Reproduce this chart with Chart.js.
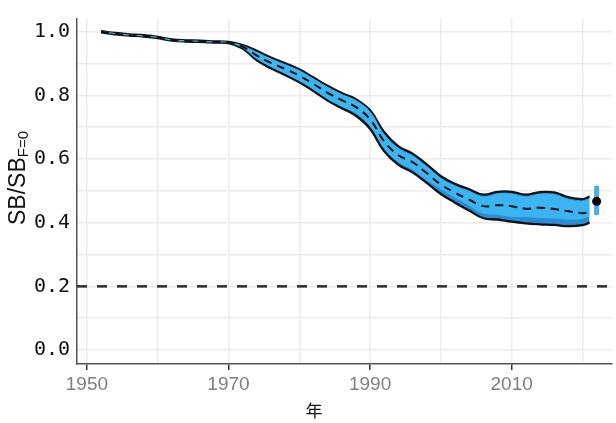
<!DOCTYPE html>
<html>
<head>
<meta charset="utf-8">
<script src="https://cdn.jsdelivr.net/npm/chart.js@4"></script>
<style>
  body { margin: 0; background: #fff; }
  canvas { display: block; }
</style>
</head>
<body>
<canvas id="sbChart" width="616" height="423"></canvas>
<script>
// years of the estimate
const years = [1952, 1954, 1956, 1958, 1960, 1962, 1964, 1966, 1968, 1970,
  1972, 1974, 1976, 1978, 1980, 1982, 1984, 1986, 1988, 1990,
  1992, 1994, 1996, 1998, 2000, 2002, 2004, 2006, 2008, 2010,
  2012, 2014, 2016, 2018, 2020, 2021];

// median SB/SB(F=0)
const median = [1.000, 0.994, 0.990, 0.987, 0.982, 0.974, 0.971, 0.970, 0.968, 0.966,
  0.953, 0.925, 0.902, 0.883, 0.862, 0.836, 0.808, 0.785, 0.763, 0.725,
  0.655, 0.612, 0.590, 0.556, 0.520, 0.494, 0.472, 0.452, 0.455, 0.452,
  0.444, 0.447, 0.443, 0.436, 0.430, 0.433];

// outer interval (dark blue)
const outerHi = [1.002, 0.996, 0.992, 0.989, 0.984, 0.976, 0.973, 0.972, 0.970, 0.968,
  0.958, 0.940, 0.919, 0.901, 0.882, 0.856, 0.830, 0.807, 0.788, 0.753,
  0.684, 0.640, 0.617, 0.583, 0.546, 0.522, 0.505, 0.488, 0.497, 0.497,
  0.488, 0.496, 0.495, 0.480, 0.474, 0.482];
const outerLo = [0.998, 0.992, 0.988, 0.985, 0.980, 0.972, 0.969, 0.968, 0.966, 0.964,
  0.947, 0.910, 0.885, 0.864, 0.841, 0.814, 0.784, 0.760, 0.736, 0.695,
  0.624, 0.582, 0.558, 0.525, 0.490, 0.463, 0.438, 0.414, 0.410, 0.403,
  0.398, 0.395, 0.393, 0.389, 0.392, 0.400];

// inner interval (light blue)
const innerHi = [1.002, 0.996, 0.992, 0.989, 0.984, 0.976, 0.973, 0.972, 0.970, 0.968,
  0.957, 0.937, 0.916, 0.898, 0.879, 0.853, 0.827, 0.804, 0.785, 0.750,
  0.678, 0.634, 0.611, 0.577, 0.540, 0.516, 0.499, 0.482, 0.491, 0.491,
  0.482, 0.490, 0.489, 0.474, 0.468, 0.476];
const innerLo = [0.998, 0.992, 0.988, 0.985, 0.980, 0.972, 0.969, 0.968, 0.966, 0.964,
  0.949, 0.914, 0.889, 0.868, 0.845, 0.818, 0.788, 0.764, 0.744, 0.703,
  0.632, 0.590, 0.566, 0.533, 0.505, 0.478, 0.453, 0.429, 0.425, 0.418,
  0.418, 0.415, 0.413, 0.409, 0.412, 0.420];

// latest-year point with its interval
const lastYear = [2022];
const lastValue = [0.467];
const lastRange = [0.424, 0.516];

// reference level
const refLevel = [0.2];

const xMin = 1948.6, xMax = 2024.1;
const yMin = -0.044, yMax = 1.04;

const pts = arr => years.map((yr, i) => ({ x: yr, y: arr[i] }));

const axisTitles = {
  id: 'axisTitles',
  afterDraw(chart) {
    const ctx = chart.ctx;
    ctx.save();
    ctx.fillStyle = '#111';
    // y axis title with subscript
    ctx.translate(25, 178);
    ctx.rotate(-Math.PI / 2);
    ctx.font = '23px "Liberation Sans", Arial, sans-serif';
    const main = 'SB/SB';
    const w1 = ctx.measureText(main).width;
    ctx.font = '15px "Liberation Sans", Arial, sans-serif';
    const w2 = ctx.measureText('F=0').width;
    const start = -(w1 + w2) / 2;
    ctx.textBaseline = 'alphabetic';
    ctx.textAlign = 'left';
    ctx.font = '23px "Liberation Sans", Arial, sans-serif';
    ctx.fillText(main, start, 0);
    ctx.font = '15px "Liberation Sans", Arial, sans-serif';
    ctx.fillText('F=0', start + w1, 3);
    ctx.restore();

    // x axis title
    ctx.save();
    ctx.fillStyle = '#111';
    ctx.font = '17px "Noto Sans CJK JP", sans-serif';
    ctx.textAlign = 'center';
    ctx.textBaseline = 'middle';
    ctx.fillText('年', 314, 411);
    ctx.restore();
  }
};

const ctx = document.getElementById('sbChart').getContext('2d');
new Chart(ctx, {
  type: 'line',
  data: {
    datasets: [
      {
        data: [{ x: xMin, y: refLevel[0] }, { x: xMax, y: refLevel[0] }],
        borderColor: '#333',
        borderWidth: 2.6,
        borderDash: [10, 10],
        pointRadius: 0,
        fill: false,
        order: 20
      },
      {
        data: pts(outerHi),
        borderColor: '#111',
        borderWidth: 2.3,
        backgroundColor: '#2b8bd5',
        pointRadius: 0,
        tension: 0.4,
        fill: '+1',
        order: 15
      },
      {
        data: pts(outerLo),
        borderColor: '#111',
        borderWidth: 2.3,
        pointRadius: 0,
        tension: 0.4,
        fill: false,
        order: 14
      },
      {
        data: pts(innerHi),
        borderWidth: 0,
        borderColor: 'rgba(0,0,0,0)',
        backgroundColor: '#3ab4f2',
        pointRadius: 0,
        tension: 0.4,
        fill: '+1',
        order: 12
      },
      {
        data: pts(innerLo),
        borderWidth: 0,
        borderColor: 'rgba(0,0,0,0)',
        pointRadius: 0,
        tension: 0.4,
        fill: false,
        order: 11
      },
      {
        data: pts(median),
        borderColor: '#111',
        borderWidth: 2,
        borderDash: [8, 6],
        pointRadius: 0,
        tension: 0.4,
        fill: false,
        order: 3
      },
      {
        data: lastRange.map(v => ({ x: lastYear[0], y: v })),
        borderColor: '#4aaee8',
        borderWidth: 5,
        pointRadius: 0,
        fill: false,
        order: 2
      },
      {
        data: [{ x: lastYear[0], y: lastValue[0] }],
        showLine: false,
        pointRadius: 4.5,
        pointBackgroundColor: '#000',
        pointBorderWidth: 0,
        order: 1
      }
    ]
  },
  options: {
    responsive: false,
    animation: false,
    layout: { padding: { top: 12, left: 0, right: 0, bottom: 0 } },
    plugins: {
      legend: { display: false },
      tooltip: { enabled: false }
    },
    scales: {
      x: {
        type: 'linear',
        min: xMin,
        max: xMax,
        afterFit: scale => { scale.height = 59; },
        grid: {
          color: '#ebebeb',
          lineWidth: 1.5,
          tickLength: 6,
          tickWidth: 1.5,
          tickColor: c => ((c.tick.value - 1950) % 20 === 0 ? '#333' : 'rgba(0,0,0,0)')
        },
        border: { color: '#555', width: 1.5 },
        ticks: {
          stepSize: 10,
          includeBounds: false,
          autoSkip: false,
          maxRotation: 0,
          padding: 3,
          color: '#7f7f7f',
          font: { family: '"Liberation Sans", Arial, sans-serif', size: 19 },
          callback: v => ((v - 1950) % 20 === 0 ? String(v) : '')
        }
      },
      y: {
        min: yMin,
        max: yMax,
        afterFit: scale => { scale.width = 77; },
        grid: {
          color: '#ebebeb',
          lineWidth: 1.5,
          drawTicks: false
        },
        border: { color: '#555', width: 1.5 },
        ticks: {
          stepSize: 0.1,
          includeBounds: false,
          autoSkip: false,
          padding: 7,
          color: '#111',
          font: { family: '"DejaVu Sans Mono", monospace', size: 20 },
          callback: v => (Math.round(v * 10) % 2 === 0 ? v.toFixed(1) : '')
        }
      }
    }
  },
  plugins: [axisTitles]
});
</script>
</body>
</html>
